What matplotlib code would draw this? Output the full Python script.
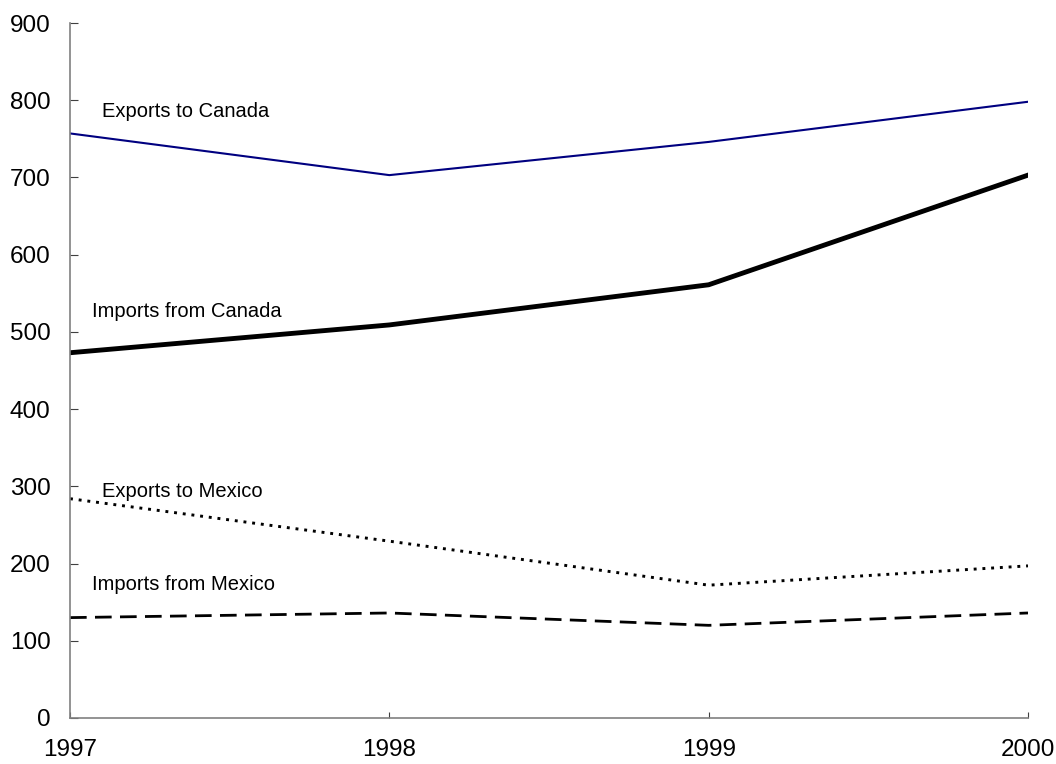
import matplotlib
matplotlib.use("Agg")
import matplotlib.pyplot as plt

years = [1997, 1998, 1999, 2000]
exports_canada = [757, 703, 746, 798]
imports_canada = [473, 509, 561, 703]
exports_mexico = [284, 229, 172, 197]
imports_mexico = [130, 136, 120, 136]
yticks = [0, 100, 200, 300, 400, 500, 600, 700, 800, 900]

plt.rcParams['font.family'] = ['Liberation Sans', 'DejaVu Sans']

fig = plt.figure(figsize=(10.56, 7.64), dpi=100)
ax = fig.add_axes([70/1056, 1 - 718/764, (1028-70)/1056, (718-23)/764])

ax.plot(years, exports_canada, color='#000080', lw=1.5)
ax.plot(years, imports_canada, color='black', lw=3.5)
ax.plot(years, exports_mexico, color='black', lw=2.1, linestyle=(0, (1, 2)),
        dash_capstyle='butt')
ax.plot(years, imports_mexico, color='black', lw=2.0, linestyle=(0, (6, 3)),
        dash_capstyle='butt')

fs = 14.5
ax.text(1997.1, 785, 'Exports to Canada', fontsize=fs, va='center', ha='left')
ax.text(1997.07, 527, 'Imports from Canada', fontsize=fs, va='center', ha='left')
ax.text(1997.1, 293, 'Exports to Mexico', fontsize=fs, va='center', ha='left')
ax.text(1997.07, 173, 'Imports from Mexico', fontsize=fs, va='center', ha='left')

ax.set_xlim(1997, 2000)
ax.set_ylim(0, 900)
ax.set_xticks(years)
ax.set_xticklabels([str(y) for y in years])
ax.set_yticks(yticks)
for s in ['top', 'right']:
    ax.spines[s].set_visible(False)
for s in ['left', 'bottom']:
    ax.spines[s].set_color('#808080')
    ax.spines[s].set_linewidth(1.2)
ax.tick_params(axis='both', direction='in', color='#404040', labelsize=17.5)
ax.tick_params(axis='x', pad=15, length=4)
ax.tick_params(axis='y', pad=14, length=6)

fig.savefig('out.png', dpi=100, facecolor='white')
